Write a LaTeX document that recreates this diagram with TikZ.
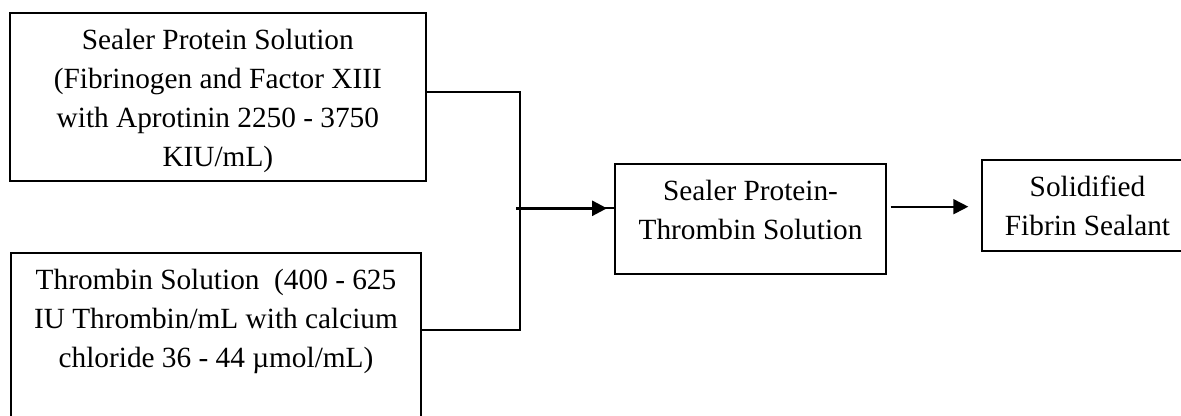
\documentclass[tikz,border=0pt]{standalone}
\usepackage{fontspec}
\setmainfont{Liberation Serif}
\usetikzlibrary{arrows.meta}
\tikzset{
  box/.style={draw, line width=0.9pt, inner sep=0pt, outer sep=0pt, anchor=north west,
    font=\fontsize{14.65}{19.5}\selectfont},
  conn/.style={line width=0.9pt},
  arr/.style={line width=0.9pt, -{Triangle[length=7.5pt,width=7.5pt]}},
  thickarr/.style={line width=1.4pt, -{Triangle[length=7.5pt,width=7.5pt]}},
}
\newcommand{\boxtext}[3]{\parbox[t][#2][t]{#1}{\centering\rule{0pt}{18.25pt}#3}}
\begin{document}
\begin{tikzpicture}[x=0.5pt,y=-0.5pt]
\useasboundingbox (0,0) rectangle (1181,416);
\clip (0,0) rectangle (1181,416);
\node[box] (box1) at (10,13.3) {\boxtext{207.85pt}{84pt}{Sealer Protein Solution\\(Fibrinogen and Factor XIII\\with Aprotinin 2250 - 3750\\KIU/mL)}};
\node[box] (box2) at (11,252.7) {\boxtext{205pt}{90pt}{Thrombin Solution\ \ (400 - 625\\IU Thrombin/mL with calcium\\chloride 36 - 44 µmol/mL)}};
\node[box] (box3) at (615,164) {\boxtext{135.5pt}{55.15pt}{Sealer Protein-\\Thrombin Solution}};
\node[box] (box4) at (981.7,160) {\boxtext{105.8pt}{45.5pt}{Solidified\\Fibrin Sealant}};
\coordinate (jt) at (520,92.3);
\coordinate (jb) at (520,330.3);
\coordinate (j) at (516,208.3);
\coordinate (a2) at (900,206.7);
\draw[conn] (box1.east |- jt) -- (jt) -- (jb) -- (box2.east |- jb);
\draw[conn] (j) -- (box3.west |- j);
\draw[thickarr, shorten >=4pt] (j) -- (box3.west |- j);
\draw[arr, shorten <=2.35pt, shorten >=6.7pt] (box3.east |- a2) -- (box4.west |- a2);
\end{tikzpicture}
\end{document}
